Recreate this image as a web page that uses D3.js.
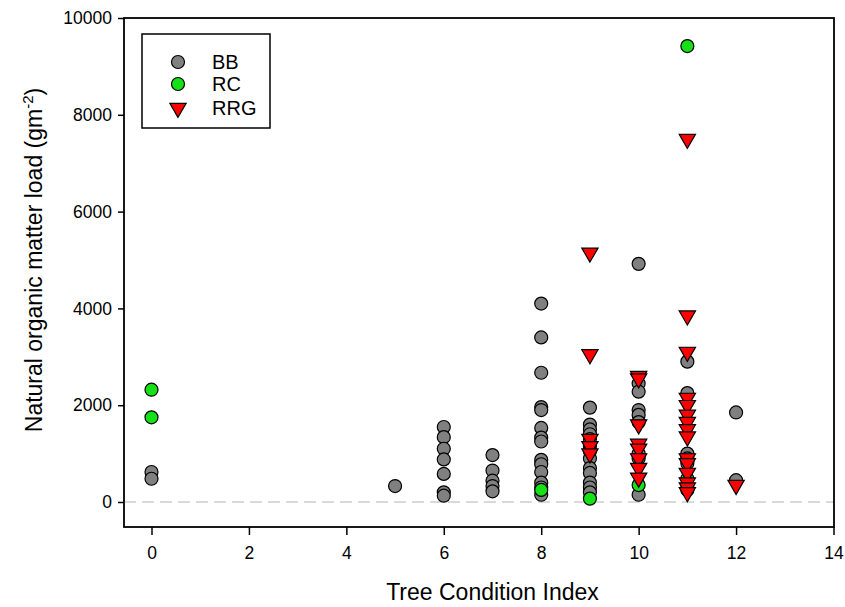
<!DOCTYPE html>
<html><head><meta charset="utf-8">
<script src="https://cdn.jsdelivr.net/npm/d3@7"></script>
<style>body{margin:0;background:#fff}text{font-family:"Liberation Sans",Arial,sans-serif}</style>
</head><body><svg id="c" width="845" height="607"></svg>
<script>
const xTicks=[0,2,4,6,8,10,12,14];
const yTicks=[0,2000,4000,6000,8000,10000];
const seriesNames=["BB","RC","RRG"];
const bbX=[0,0,5,6,6,6,6,6,6,6,7,7,7,7,7,
 8,8,8,8,8,8,8,8,8,8,8,8,8,8,
 9,9,9,9,9,9,9,9,9,9,9,9,9,
 10,10,10,10,10,10,10,10,10,
 11,11,11,11,11,11,11,12,12];
const bbY=[620,480,330,1550,1340,1100,880,580,200,130,970,650,440,330,220,
 4100,3400,2670,1960,1900,1530,1330,1250,870,780,620,400,300,150,
 1950,1600,1500,1400,1300,1150,1050,900,700,600,400,300,200,
 4920,2450,2280,1900,1800,1650,1000,900,150,
 2900,2250,1000,900,800,300,250,1850,450];
const rcX=[0,0,8,9,10,11,11];
const rcY=[2320,1750,250,70,350,9420,480];
const rrgX=[9,9,9,9,9,
 10,10,10,10,10,10,10,10,
 11,11,11,11,11,11,11,11,11,11,11,11,11,11,11,12];
const rrgY=[5150,3050,1300,1150,1000,
 2600,2550,1600,1200,1100,900,700,500,
 7500,3850,3100,2150,2000,1800,1650,1500,1350,900,800,600,400,300,200,350];

const svg=d3.select("#c");
const L=124,R=834,T=18,B=527;
const ux=(833.5-151.5)/14;
const x=d3.scaleLinear().domain([-(151.5-L)/ux,(R-151.5)/ux]).range([L,R]);
const y=d3.scaleLinear().domain([-(B-502)/(484/10000),10000]).range([B,T]);

svg.append("line").attr("x1",L).attr("x2",R).attr("y1",y(0)).attr("y2",y(0))
 .attr("stroke","#d9d9d9").attr("stroke-width",2).attr("stroke-dasharray","12,6");

const xa=svg.append("g").attr("transform",`translate(0,${B})`)
 .call(d3.axisBottom(x).tickValues(xTicks).tickSize(8).tickPadding(12).tickFormat(d3.format("d")));
const ya=svg.append("g").attr("transform",`translate(${L},0)`)
 .call(d3.axisLeft(y).tickValues(yTicks).tickSize(6).tickPadding(6).tickFormat(d3.format("d")));
[xa,ya].forEach(a=>{a.select(".domain").remove();a.selectAll("line").attr("stroke","#000").attr("stroke-width",1.5);
 a.selectAll("text").attr("font-size",17.5).attr("fill","#000").style("font-family","Liberation Sans, Arial, sans-serif");});
svg.append("rect").attr("x",L).attr("y",T).attr("width",R-L).attr("height",B-T)
 .attr("fill","none").attr("stroke","#000").attr("stroke-width",1.8);

const tri=d3.symbol().type(d3.symbolTriangle).size(115);
const R0=6.5;
function circles(xs,ys,fill){
 svg.append("g").selectAll("circle").data(xs.map((d,i)=>[d,ys[i]])).join("circle")
  .attr("cx",d=>x(d[0])).attr("cy",d=>y(d[1])).attr("r",R0)
  .attr("fill",fill).attr("stroke","#000").attr("stroke-width",1.2);
}
circles(bbX,bbY,"#808080");
circles(rcX,rcY,"#16e016");
svg.append("g").selectAll("path").data(rrgX.map((d,i)=>[d,rrgY[i]])).join("path")
 .attr("d",tri).attr("transform",d=>`translate(${x(d[0])},${y(d[1])}) rotate(180)`)
 .attr("fill","#ff0000").attr("stroke","#000").attr("stroke-width",1.2);

const lg=svg.append("g");
lg.append("rect").attr("x",142).attr("y",34).attr("width",128).attr("height",94)
 .attr("fill","#fff").attr("stroke","#000").attr("stroke-width",1.5);
const ly=[62,84,108];
lg.append("circle").attr("cx",178).attr("cy",ly[0]).attr("r",R0).attr("fill","#808080").attr("stroke","#000").attr("stroke-width",1.2);
lg.append("circle").attr("cx",178).attr("cy",ly[1]).attr("r",R0).attr("fill","#16e016").attr("stroke","#000").attr("stroke-width",1.2);
lg.append("path").attr("d",tri).attr("transform",`translate(178,${ly[2]}) rotate(180)`).attr("fill","#ff0000").attr("stroke","#000").attr("stroke-width",1.2);
seriesNames.forEach((n,i)=>lg.append("text").attr("x",212).attr("y",ly[i]+7).attr("font-size",20).text(n));

svg.append("text").attr("x",x(7)).attr("y",600).attr("text-anchor","middle").attr("font-size",23).text("Tree Condition Index");
const yt=svg.append("text").attr("transform","translate(42,260) rotate(-90)").attr("text-anchor","middle").attr("font-size",23);
yt.append("tspan").text("Natural organic matter load (gm");
yt.append("tspan").attr("dy",-9).attr("font-size",15).text("-2");
yt.append("tspan").attr("dy",9).text(")");
</script></body></html>
